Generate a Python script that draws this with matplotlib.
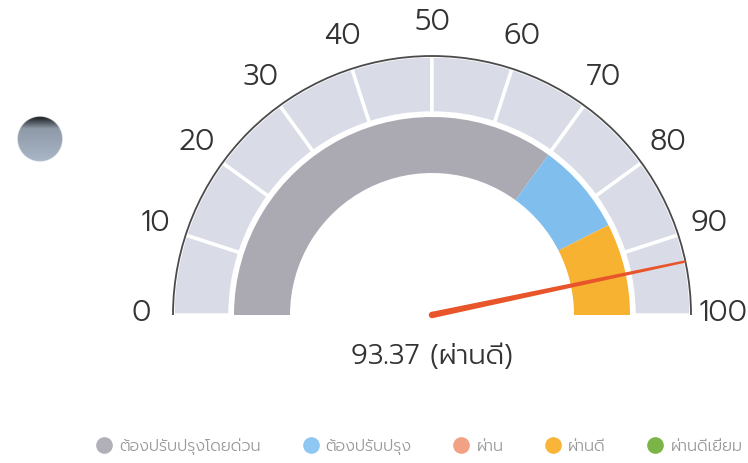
import numpy as np
import matplotlib
matplotlib.use("Agg")
import matplotlib.pyplot as plt
from matplotlib.patches import Wedge, Polygon, Circle, Arc
from matplotlib.lines import Line2D

# ---- data ----
gauge_min, gauge_max = 0, 100
tick_values = [0, 10, 20, 30, 40, 50, 60, 70, 80, 90, 100]
band_edges = [0, 70, 85, 100]
band_colors = ["#ABAAB3", "#80BEEE", "#F8B232"]
value = 93.37
value_label = "93.37 (ผ่านดี)"
legend_labels = ["ต้องปรับปรุงโดยด่วน", "ต้องปรับปรุง", "ผ่าน", "ผ่านดี", "ผ่านดีเยี่ยม"]
legend_colors = ["#B1B0B8", "#8EC7F2", "#F2A184", "#F9B43A", "#7BB547"]

FONT = ["Prompt", "DejaVu Sans"]
W, H = 748, 464
fig = plt.figure(figsize=(W / 100, H / 100), dpi=100)
ax = fig.add_axes([0, 0, 1, 1])
ax.set_xlim(0, W)
ax.set_ylim(0, H)
ax.set_aspect("equal")
ax.axis("off")

cx, cy = 432, 148
R_out, R_band_in = 259, 202
R_in_out, R_in_in = 198, 142

def ang(v):
    return 180 - 180 * (v - gauge_min) / (gauge_max - gauge_min)

# outer light segments
for a, b in zip(tick_values[:-1], tick_values[1:]):
    ax.add_patch(Wedge((cx, cy), R_out, ang(b), ang(a), width=R_out - R_band_in,
                       facecolor="#D9DCE7", edgecolor="white", linewidth=2.5))
# outer arc line
ax.add_patch(Arc((cx, cy), 2 * R_out, 2 * R_out, theta1=0, theta2=180,
                 color="#4a4a4a", linewidth=1.3))

# inner colored bands
for a, b, c in zip(band_edges[:-1], band_edges[1:], band_colors):
    ax.add_patch(Wedge((cx, cy), R_in_out, ang(b), ang(a), width=R_in_out - R_in_in,
                       facecolor=c, edgecolor="none"))

# tick labels
R_lab = 291
for t in tick_values:
    th = np.deg2rad(ang(t))
    ax.text(cx + R_lab * np.cos(th), cy + 3 + R_lab * np.sin(th), str(t),
            ha="center", va="center", fontsize=21, color="#333333",
            family=FONT, fontweight=300)

# needle
th = np.deg2rad(ang(value))
ux, uy = np.cos(th), np.sin(th)
px, py = -uy, ux
w0, w1 = 3.2, 1.2
pts = [(cx + px * w0, cy + py * w0),
       (cx + R_out * ux + px * w1, cy + R_out * uy + py * w1),
       (cx + R_out * ux - px * w1, cy + R_out * uy - py * w1),
       (cx - px * w0, cy - py * w0)]
ax.add_patch(Polygon(pts, closed=True, facecolor="#E9552B", edgecolor="none", zorder=5))
ax.add_patch(Circle((cx, cy), w0, facecolor="#E9552B", edgecolor="none", zorder=5))

# value label
ax.text(cx, 107, value_label, ha="center", va="center", fontsize=20,
        color="#333333", family=FONT, fontweight=300)

# decorative sphere
sx, sy, sr = 40, 324, 23
n = 120
yy, xx = np.mgrid[-1:1:n * 1j, -1:1:n * 1j]
d = np.sqrt(xx ** 2 + yy ** 2)
shade = 0.66 + 0.08 * (-yy) - 0.9 * np.clip(yy - 0.45, 0, None)
shade = np.clip(shade, 0.08, 0.85)
img = np.zeros((n, n, 4))
img[..., 0] = shade * 0.90
img[..., 1] = shade * 0.97
img[..., 2] = shade * 1.06
img[..., :3] = np.clip(img[..., :3], 0, 1)
img[..., 3] = np.clip((1 - d) * 25, 0, 1)
ax.imshow(img, extent=[sx - sr, sx + sr, sy - sr, sy + sr], origin="lower", zorder=3)

# legend
handles = [Line2D([], [], marker="o", linestyle="none", markersize=12,
                  markerfacecolor=c, markeredgecolor="none") for c in legend_colors]
leg = fig.legend(handles, legend_labels, loc="center left",
                 bbox_to_anchor=(82 / W, 17 / H), ncol=5, frameon=False,
                 handlelength=1.0, handletextpad=0.45, columnspacing=2.6,
                 prop={"family": FONT, "size": 11.5, "weight": 300})
for t in leg.get_texts():
    t.set_color("#9a9a9a")

fig.savefig("out.png", dpi=100, facecolor="white")
